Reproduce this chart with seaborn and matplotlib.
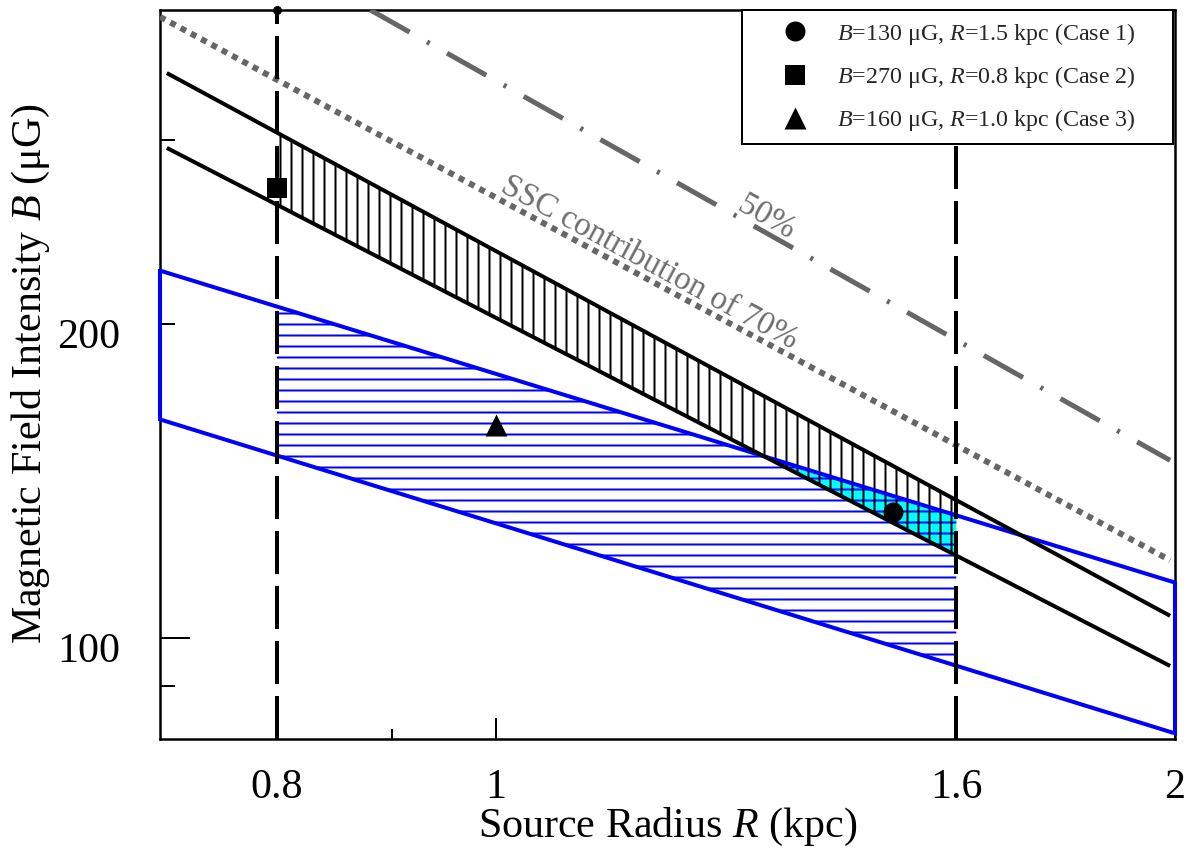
import numpy as np
import matplotlib
matplotlib.use("Agg")
import matplotlib.pyplot as plt
import matplotlib.transforms as mtransforms
from matplotlib.ticker import NullLocator, FixedLocator, FixedFormatter
import seaborn as sns

DPI = 66


def P(px):
    """pixels -> points at the figure dpi"""
    return px * 72.0 / DPI


# ---------------- data ----------------
R_LIMITS = [0.71, 2.0]
B_LIMITS = [80, 400]

# black constraint lines (endpoints, R in kpc, B in uG)
black_r = [0.715, 1.99]
black_upper_b = [348, 105]
black_lower_b = [295, 94]

# blue constraint band
blue_r = [0.71, 2.0]
blue_upper_b = [225, 113]
blue_lower_b = [162, 81]

# SSC contribution lines
ssc70_r = [0.71, 1.99]
ssc70_b = [394, 118.7]
ssc50_r = [0.88, 1.99]
ssc50_b = [400, 148]

# allowed source radius range
radius_range = [0.8, 1.6]

# cases
case_r = [1.5, 0.8, 1.0]
case_b = [132, 270, 160]
case_markers = ["o", "s", "^"]
case_sizes_px = [20, 20, 22]
case_labels = [
    r"$B$=130 μG, $R$=1.5 kpc (Case 1)",
    r"$B$=270 μG, $R$=0.8 kpc (Case 2)",
    r"$B$=160 μG, $R$=1.0 kpc (Case 3)",
]

x_ticks = [0.8, 0.9, 1.0, 1.6, 2.0]
x_ticklabels = ["0.8", "", "1", "1.6", "2"]
x_tick_len_px = [21, 10.5, 21, 21, 21]
y_ticks = [90, 100, 200, 300]
y_ticklabels = ["", "100", "200", ""]
y_tick_len_px = [15, 30, 15, 15]

# ---------------- style ----------------
sns.set_theme(style="white")
plt.rcParams["font.family"] = ["Liberation Serif", "DejaVu Serif"]
plt.rcParams["mathtext.fontset"] = "custom"
plt.rcParams["mathtext.rm"] = "Liberation Serif"
plt.rcParams["mathtext.it"] = "Liberation Serif:italic"
plt.rcParams["hatch.linewidth"] = P(2)

GRAY = "#666666"
TEXT_GRAY = "#6e6e6e"


def loglin(r, r_ends, b_ends):
    return 10 ** np.interp(np.log10(r), np.log10(r_ends), np.log10(b_ends))


fig = plt.figure(figsize=(1189 / DPI, 851 / DPI), dpi=DPI)
ax = fig.add_axes([160 / 1189, 1 - 739 / 851, 1015 / 1189, 729 / 851])
ax.set_xscale("log")
ax.set_yscale("log")
ax.set_xlim(R_LIMITS)
ax.set_ylim(B_LIMITS)

# ---------------- filled regions ----------------
rr = np.geomspace(radius_range[0], radius_range[1], 600)
bu = loglin(rr, black_r, black_upper_b)
bl = loglin(rr, black_r, black_lower_b)
blu = loglin(rr, blue_r, blue_upper_b)
bll = loglin(rr, blue_r, blue_lower_b)
top = np.minimum(bu, blu)
bot = np.maximum(bl, bll)
ax.fill_between(rr, bot, top, where=top > bot, interpolate=True,
                facecolor="#00ffff", edgecolor="none", lw=0, zorder=1)
ax.fill_between(rr, bll, blu, facecolor="none", edgecolor="#0000ff",
                hatch="-", lw=0, zorder=2)
ax.fill_between(rr, bl, bu, facecolor="none", edgecolor="black",
                hatch="|", lw=0, zorder=2)

# ---------------- lines ----------------
poly_r = [blue_r[0], blue_r[1], blue_r[1], blue_r[0], blue_r[0]]
poly_b = [blue_upper_b[0], blue_upper_b[1], blue_lower_b[1], blue_lower_b[0], blue_upper_b[0]]
sns.lineplot(x=poly_r, y=poly_b, sort=False, estimator=None, ax=ax,
             color="#0000ff", lw=P(4), clip_on=False, zorder=3,
             solid_joinstyle="miter")

sns.lineplot(x=black_r, y=black_upper_b, ax=ax, color="black", lw=P(4),
             solid_capstyle="butt", zorder=3)
sns.lineplot(x=black_r, y=black_lower_b, ax=ax, color="black", lw=P(4),
             solid_capstyle="butt", zorder=3)

sns.lineplot(x=ssc70_r, y=ssc70_b, ax=ax, color=GRAY, lw=P(6), zorder=3)
ax.lines[-1].set_linestyle((0, (1.0, 0.95)))
ax.lines[-1].set_dash_capstyle("butt")
sns.lineplot(x=ssc50_r, y=ssc50_b, ax=ax, color=GRAY, lw=P(5), zorder=3)
ax.lines[-1].set_linestyle((0, (9.0, 4.0, 0.6, 4.0)))
ax.lines[-1].set_dash_capstyle("butt")

for r in radius_range:
    ax.axvline(r, color="black", lw=P(4), linestyle=(0, (10.75, 3.0)), zorder=4)
ax.plot([radius_range[0]], [B_LIMITS[1]], "o", ms=P(8), color="black",
        clip_on=False, zorder=7)

# ---------------- case markers ----------------
for r, b, m, sz, lab in zip(case_r, case_b, case_markers, case_sizes_px, case_labels):
    sns.scatterplot(x=[r], y=[b], marker=m, s=P(sz) ** 2, color="black",
                    edgecolor="black", linewidth=0, label=lab, ax=ax, zorder=6)

# ---------------- annotations ----------------
ax.text(1.17, 229, "SSC contribution of 70%", rotation=-28.4, rotation_mode="anchor",
        ha="center", va="center", color=TEXT_GRAY, fontsize=P(33), zorder=5)
ax.text(1.318, 252.6, "50%", rotation=-29.5, rotation_mode="anchor",
        ha="center", va="center", color=TEXT_GRAY, fontsize=P(33), zorder=5)

# ---------------- axes / ticks ----------------
ax.xaxis.set_major_locator(FixedLocator(x_ticks))
ax.xaxis.set_major_formatter(FixedFormatter(x_ticklabels))
ax.xaxis.set_minor_locator(NullLocator())
ax.yaxis.set_major_locator(FixedLocator(y_ticks))
ax.yaxis.set_major_formatter(FixedFormatter(y_ticklabels))
ax.yaxis.set_minor_locator(NullLocator())

ax.tick_params(which="both", direction="in", length=P(15), width=P(2),
               bottom=True, left=True, top=False, right=False,
               labelsize=P(42), color="black", labelcolor="black")
ax.tick_params(axis="x", pad=P(30))
ax.tick_params(axis="y", pad=P(40))

for t, L in zip(ax.xaxis.get_major_ticks(), x_tick_len_px):
    t.tick1line.set_markersize(P(L))
for t, L in zip(ax.yaxis.get_major_ticks(), y_tick_len_px):
    t.tick1line.set_markersize(P(L))

offset = mtransforms.ScaledTranslation(0, -9 / DPI, fig.dpi_scale_trans)
for lab in ax.get_yticklabels():
    lab.set_transform(lab.get_transform() + offset)

for s in ax.spines.values():
    s.set_linewidth(P(2.5))
    s.set_color("black")
    s.set_visible(True)

ax.set_xlabel("Source Radius $R$ (kpc)", fontsize=P(42), color="black")
ax.xaxis.set_label_coords(0.5, -0.092)
ax.set_ylabel("Magnetic Field Intensity $B$ (μG)", fontsize=P(42), color="black")
ax.yaxis.set_label_coords(-0.106, 0.5007)

handles, labels = ax.get_legend_handles_labels()
leg = ax.legend(handles, labels, loc="upper left",
                bbox_to_anchor=(0.5734, 0.0, 0.4246, 1.0), mode="expand",
                borderaxespad=0, fontsize=P(24), frameon=True, fancybox=False,
                shadow=False, framealpha=1, edgecolor="black",
                handlelength=3.5, handletextpad=0.0, borderpad=0.45,
                labelspacing=0.72, scatterpoints=1, scatteryoffsets=[0.5])
leg.get_frame().set_linewidth(P(2))
leg.set_zorder(10)

fig.savefig("out.png", dpi=DPI, facecolor="white")
